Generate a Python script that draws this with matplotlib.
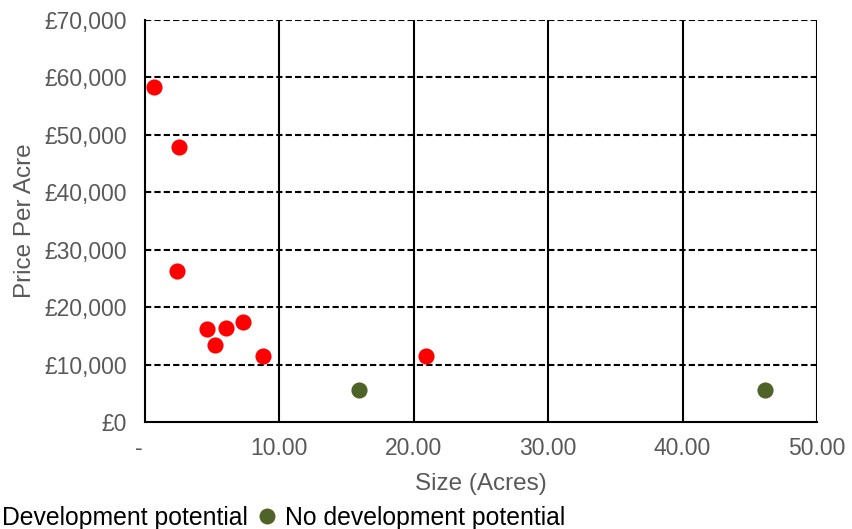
import matplotlib
matplotlib.use("Agg")
import matplotlib.pyplot as plt
from matplotlib.lines import Line2D
from matplotlib.ticker import FuncFormatter

plt.rcParams['font.family'] = ['Liberation Sans', 'DejaVu Sans']

# Land sales: size in acres vs price per acre
dev_size = [0.7, 2.5, 2.4, 4.6, 6.0, 7.3, 5.2, 8.8, 20.9]
dev_price = [58300, 47900, 26300, 16150, 16400, 17400, 13400, 11500, 11500]
nodev_size = [15.9, 46.1]
nodev_price = [5550, 5550]

series_labels = ["Development potential", "No development potential"]
series_colors = ["#FF0000", "#4F6228"]

x_ticks = [0, 10, 20, 30, 40, 50]
y_ticks = [0, 10000, 20000, 30000, 40000, 50000, 60000, 70000]

W, H = 852, 529
fig = plt.figure(figsize=(W / 100, H / 100), dpi=100)
ax = fig.add_axes([145 / W, (H - 422) / H, (817 - 145) / W, (422 - 20) / H])

ax.scatter(dev_size, dev_price, s=135, color=series_colors[0], zorder=3, linewidths=0)
ax.scatter(nodev_size, nodev_price, s=135, color=series_colors[1], zorder=3, linewidths=0)

ax.set_xlim(0, 50)
ax.set_ylim(0, 70000)
ax.set_xticks(x_ticks)
ax.set_yticks(y_ticks)
# accounting-style zero: a dash padded on the right
ax.xaxis.set_major_formatter(FuncFormatter(lambda v, p: "-  " if v == 0 else f"{v:.2f}"))
ax.yaxis.set_major_formatter(FuncFormatter(lambda v, p: f"£{v:,.0f}"))

tick_color = "#595959"
ax.tick_params(axis='both', length=0, labelsize=16.5, labelcolor=tick_color)
ax.tick_params(axis='x', pad=11)
ax.tick_params(axis='y', pad=13)

# Grid: solid verticals, dashed horizontals
for xv in x_ticks[1:]:
    ax.axvline(xv, color="black", lw=1.5, zorder=1)
for yv in y_ticks[1:]:
    ax.axhline(yv, color="black", lw=1.5, ls=(0, (3, 1.5)), zorder=1)

ax.spines['top'].set_visible(False)
ax.spines['right'].set_visible(False)
for s in ('left', 'bottom'):
    ax.spines[s].set_color("black")
    ax.spines[s].set_linewidth(1.5)

ax.set_xlabel("Size (Acres)", fontsize=17.5, color=tick_color, labelpad=9)
ax.set_ylabel("Price Per Acre", fontsize=17.5, color=tick_color, labelpad=6)

handles = [Line2D([], [], ls='none', marker='o', markersize=11.5, color=c, markeredgewidth=0)
           for c in series_colors]
fig.legend(handles, series_labels, loc='lower left', ncol=2, frameon=False,
           bbox_to_anchor=(-25 / W, -1 / H), borderaxespad=0, borderpad=0.0,
           handlelength=0.7, handletextpad=0.4, columnspacing=0.4,
           fontsize=17.8, labelcolor="black")

fig.savefig("out.png", dpi=100)
